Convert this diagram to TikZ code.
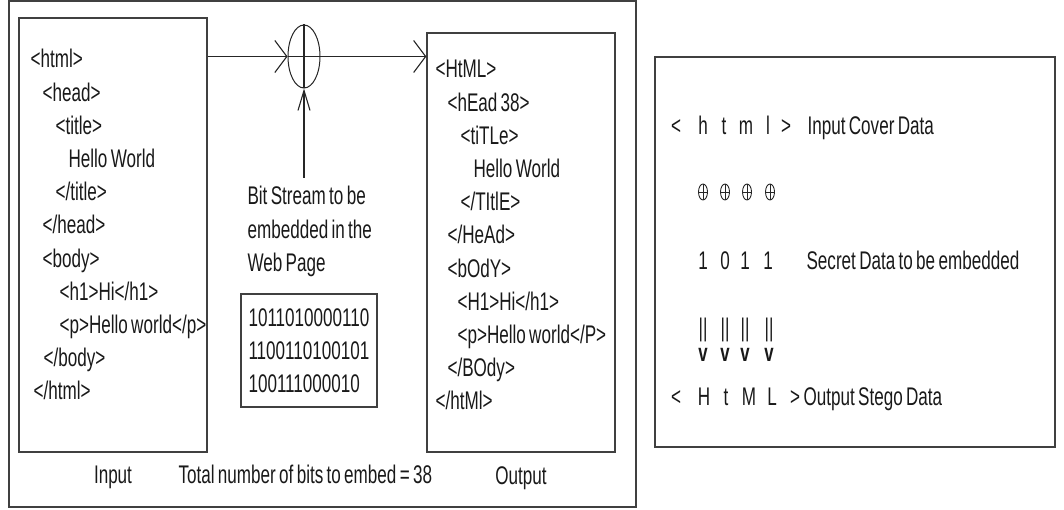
\documentclass[tikz,border=0pt]{standalone}
\usepackage{fontspec}
\setmainfont{Liberation Sans}[FakeStretch=0.67, WordSpace=0.7]
\usetikzlibrary{shapes.geometric, arrows.meta, positioning}

\begin{document}
\begin{tikzpicture}[
    x=1pt, y=-1pt,
    line width=1.1pt,
    frame/.style={draw=black!75, line width=1.4pt, inner sep=0pt},
    codebox/.style={draw=black!75, line width=1.3pt, minimum width=188pt, inner sep=0pt},
    code/.style={anchor=base west, inner sep=0pt, text width=210pt, align=left,
        font=\fontsize{25.5}{33.2}\selectfont, text=black!90,
        execute at begin node={\spaceskip=0pt\xspaceskip=0pt}},
    label/.style={inner sep=0pt, font=\fontsize{25.5}{30}\selectfont, text=black!90},
    glyph/.style={anchor=base, inner sep=0pt, font=\fontsize{25.5}{30}\selectfont, text=black!90},
    opmark/.style={draw=black!85, ellipse, line width=0.9pt, minimum width=9pt, minimum height=16pt, inner sep=0pt},
    barb/.style={-{Straight Barb[length=12pt,width=32pt]}, draw=black!85},
    feed/.style={-{Straight Barb[length=20pt,width=12pt]}, draw=black!85}
]
\useasboundingbox (0,0) rectangle (1064,510);

% Left panel: frame and the two pages
\node[frame, minimum width=627pt, minimum height=506pt] (panel) at (322.5,254) {};
\node[codebox, minimum height=434pt] (inbox) at (113,235) {};
\node[codebox, minimum height=419pt] (outbox) at (521,242.5) {};

% Cover page
\node[code] (incode) at (30,68) {<html>\\
\hspace*{12pt}<head>\\
\hspace*{25pt}<title>\\
\hspace*{38pt}Hello World\\
\hspace*{25pt}</title>\\
\hspace*{12pt}</head>\\
\hspace*{12pt}<body>\\
\hspace*{29pt}<h1>Hi</h1>\\
\hspace*{29pt}<p>Hello world</p>\\
\hspace*{13pt}</body>\\
\hspace*{3pt}</html>};

% Stego page
\node[code] (outcode) at (435,78) {<HtML>\\
\hspace*{12pt}<hEad 38>\\
\hspace*{25pt}<tiTLe>\\
\hspace*{38pt}Hello World\\
\hspace*{25pt}</TItlE>\\
\hspace*{12pt}</HeAd>\\
\hspace*{12pt}<bOdY>\\
\hspace*{22pt}<H1>Hi</h1>\\
\hspace*{22pt}<p>Hello world</P>\\
\hspace*{12pt}</BOdy>\\
</htMl>};

% Embedding operator
\node[draw=black!85, ellipse, minimum width=32pt, minimum height=63pt, inner sep=0pt, line width=1pt] (xor) at (304,56.5) {};
\draw[draw=black!85] (xor.north) -- (xor.south);
\draw[draw=black!85] (xor.west) -- (xor.east);
\draw[barb] (inbox.east |- xor.west) -- (xor.west);
\draw[barb] (xor.east) -- (xor.east -| outbox.west);

% Bit stream
\node[code] (bitlbl) at (247,205) {Bit Stream to be\\embedded in the\\Web Page};
\coordinate (feedtop) at (304,178);
\draw[feed] (feedtop) -- (xor.south);
\node[draw=black!75, line width=1.3pt, align=left, minimum width=136pt, minimum height=113pt,
    inner sep=2pt, font=\fontsize{25.5}{33.2}\selectfont, text=black!90] (bits) at (309,350.5)
    {1011010000110\\1100110100101\\100111000010};

% Captions
\node[label, below=13pt of inbox] (inlbl) {Input};
\node[label, below=13pt of outbox] (outlbl) {Output};
\node[label, anchor=base west] (total) at (178,483) {Total number of bits to embed = 38};

% Right panel: one character at a time
\node[frame, minimum width=400pt, minimum height=390pt] (rbox) at (855,252) {};
\foreach \ch/\x [count=\i] in {</676, h/703, t/724, m/746, l/768, >/786}
    \node[glyph] (cover\i) at (\x,135) {\ch};
\node[glyph, anchor=base west] (coverlbl) at (807,135) {Input Cover Data};

\foreach \x [count=\i] in {703, 725, 747, 770} {
    \node[opmark] (op\i) at (\x,192) {};
    \draw[draw=black!85, line width=0.9pt] (op\i.north) -- (op\i.south) (op\i.west) -- (op\i.east);
}

\foreach \ch/\x [count=\i] in {1/703, 0/725, 1/745, 1/768}
    \node[glyph] (secret\i) at (\x,270) {\ch};
\node[glyph, anchor=base west] (secretlbl) at (806,270) {Secret Data to be embedded};

\foreach \x [count=\i] in {703, 725, 745, 769} {
    \node[glyph, anchor=center] (bar\i) at (\x,330) {||};
    \node[glyph, anchor=center, font=\fontsize{25}{30}\selectfont\bfseries] (vee\i) at (\x,355) {v};
}

\foreach \ch/\x [count=\i] in {</676, H/704, t/726, M/749, L/772, >/795}
    \node[glyph] (stego\i) at (\x,405) {\ch};
\node[glyph, anchor=base west] (stegolbl) at (803,405) {Output Stego Data};

\end{tikzpicture}
\end{document}
